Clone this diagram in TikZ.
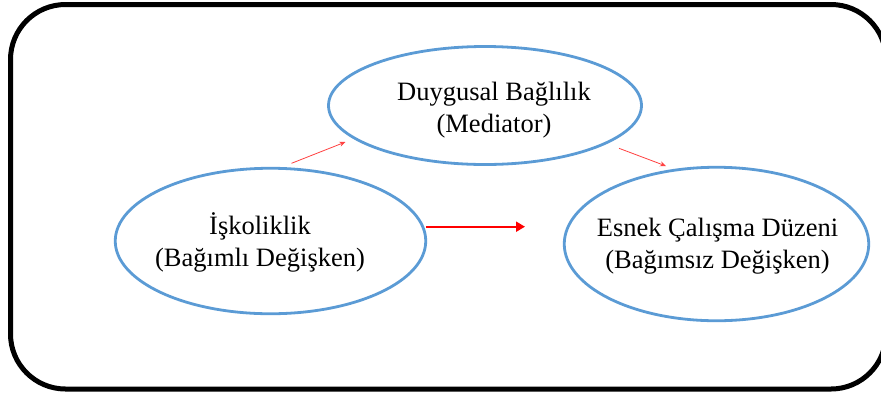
\documentclass[tikz,border=0pt]{standalone}
\usepackage{fontspec}
\setmainfont{Liberation Serif}
\usetikzlibrary{shapes.geometric,arrows.meta}
\definecolor{ellblue}{HTML}{5B9BD5}
\begin{document}
\begin{tikzpicture}[x=1bp,y=-1bp,
  oval/.style={draw=ellblue, line width=2.8bp, ellipse, inner sep=0pt, outer sep=0pt},
  lbl/.style={align=center, font=\fontsize{26.5bp}{32bp}\selectfont, anchor=base, inner sep=0pt},
  thinarr/.style={draw=red!75, line width=0.8bp, -{Stealth[length=6bp,width=5bp]}},
  mainarr/.style={draw=red, line width=2bp, -{Triangle[length=9bp,width=10bp]}}]
\useasboundingbox (0,0) rectangle (881,394);
\draw[line width=5bp, rounded corners=55bp] (10.5,4.5) rectangle (886,389);
\node[oval, minimum width=313bp, minimum height=118bp] (med) at (485,105.5) {};
\node[oval, minimum width=310.5bp, minimum height=145.5bp] (dep) at (270.5,241) {};
\node[oval, minimum width=304.5bp, minimum height=153.5bp] (ind) at (716.5,244) {};
\node[lbl] (medt) at (494,132) {Duygusal Bağlılık\\(Mediator)};
\node[lbl] (dept) at (260,266) {İşkoliklik\\(Bağımlı Değişken)};
\node[lbl] (indt) at (717.5,268) {Esnek Çalışma Düzeni\\(Bağımsız Değişken)};
\coordinate (a1s) at (291.5,163.3);
\coordinate (a1e) at (345.5,142);
\coordinate (a2s) at (619,148.3);
\coordinate (a2e) at (666,166);
\coordinate (a3e) at (525,226.7);
\draw[thinarr] (a1s) -- (a1e);
\draw[thinarr] (a2s) -- (a2e);
\draw[mainarr] (dep.east |- a3e) -- (a3e);
\end{tikzpicture}
\end{document}
